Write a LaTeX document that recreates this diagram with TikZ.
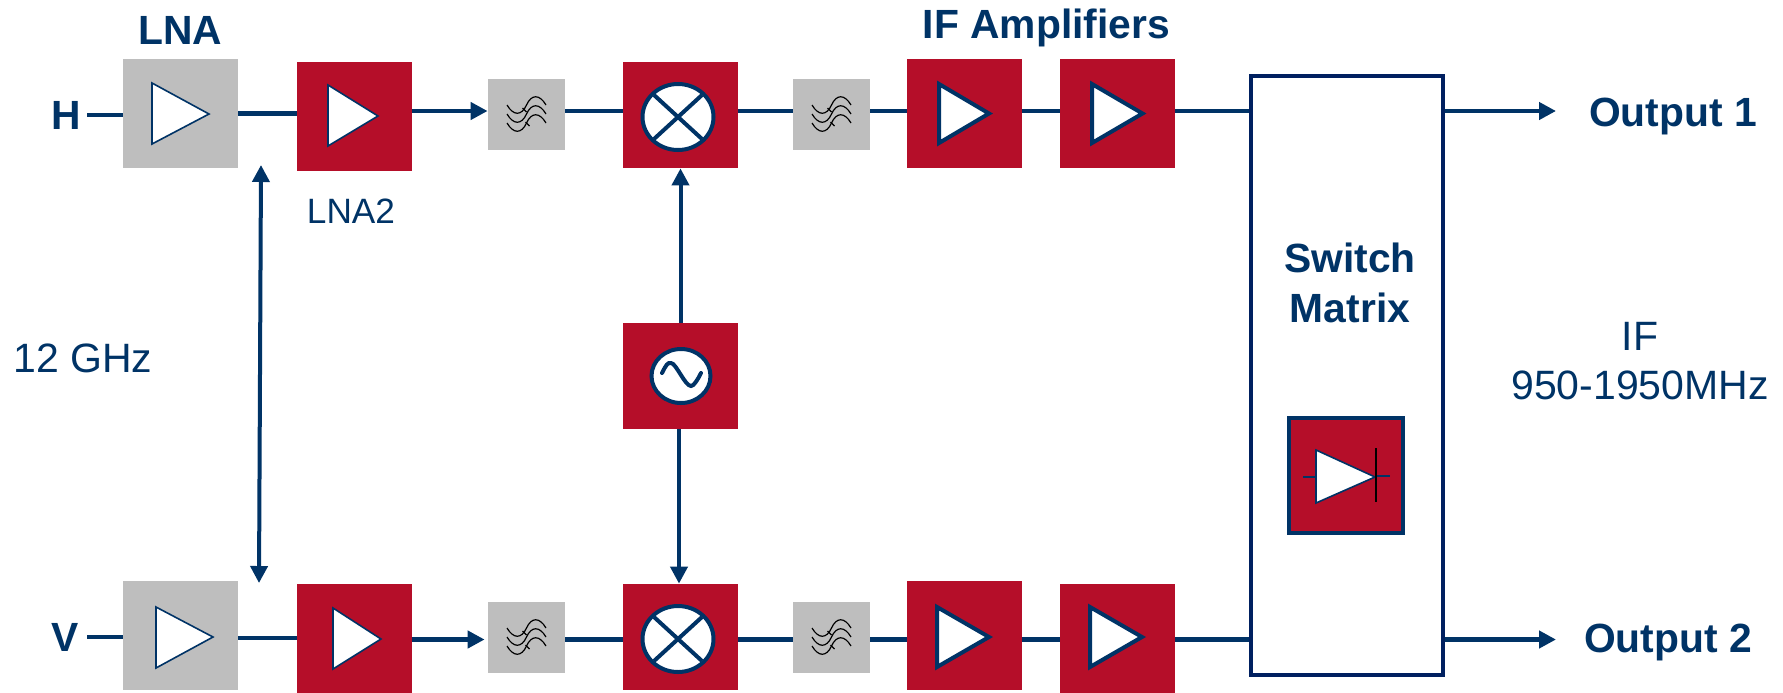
\documentclass[tikz,border=0pt]{standalone}
\usepackage{fontspec}
\setmainfont{Liberation Sans}
\usetikzlibrary{arrows.meta}
\definecolor{navy}{RGB}{0,51,102}
\definecolor{swnavy}{RGB}{0,32,96}
\definecolor{boxred}{RGB}{181,14,41}
\definecolor{boxgray}{RGB}{190,190,190}
\tikzstyle{block} = [rectangle, minimum width=57.5pt, minimum height=54.5pt, inner sep=0pt, fill=boxred]
\tikzstyle{lnablock} = [block, fill=boxgray]
\tikzstyle{mixblock} = [block, minimum height=53pt]
\tikzstyle{filterblock} = [rectangle, minimum width=38.5pt, minimum height=35.5pt, inner sep=0pt, fill=boxgray]
\tikzstyle{wire} = [draw=navy, line width=2.25pt]
\tikzstyle{arrow} = [wire, -{Triangle[length=8.5pt, width=8.5pt]}]
\tikzstyle{darrow} = [draw=navy, line width=2pt, {Triangle[length=8.5pt, width=8.5pt]}-{Triangle[length=8.5pt, width=8.5pt]}]
\tikzstyle{boldlabel} = [text=navy, inner sep=0pt, font=\fontsize{20.4}{25}\selectfont\bfseries]
\tikzstyle{plainlabel} = [text=navy, inner sep=0pt, font=\fontsize{20.5}{24.5}\selectfont]

\begin{document}
\begin{tikzpicture}[x=0.5pt, y=-0.5pt]

    \useasboundingbox (0, 0) rectangle (1783, 692);

    \node (lnaH) [lnablock] at (180.5, 113.5) {};
    \node (lna2H) [block] at (354.5, 116) {};
    \node (filterH) [filterblock] at (526.5, 114.5) {};
    \node (mixerH) [mixblock] at (680.5, 115) {};
    \node (filter2H) [filterblock] at (831.5, 114.5) {};
    \node (ifH) [block] at (964.5, 113.5) {};
    \node (if2H) [block] at (1117.5, 113.5) {};

    \node (lo) [mixblock] at (680.5, 376) {};

    \node (lnaV) [lnablock] at (180.5, 635) {};
    \node (lna2V) [block] at (354.5, 638) {};
    \node (filterV) [filterblock] at (526.5, 637.5) {};
    \node (mixerV) [mixblock] at (680.5, 637) {};
    \node (filter2V) [filterblock] at (831.5, 637.5) {};
    \node (ifV) [block] at (964.5, 635) {};
    \node (if2V) [block] at (1117.5, 638) {};

    \node (switch) [rectangle, draw=swnavy, line width=2pt, minimum width=96pt, minimum height=299.5pt] at (1347, 375.5) {};
    \node (diode) [rectangle, draw=navy, line width=2pt, fill=boxred, minimum width=57pt, minimum height=57.5pt] at (1346, 475.5) {};

    \node (lnaText) [boldlabel, anchor=base] at (180.5, 44) {LNA};
    \node (lna2Text) [text=navy, inner sep=0pt, font=\fontsize{17.6}{20}\selectfont, anchor=base] at (351, 223) {LNA2};
    \node (ifText) [boldlabel, anchor=base] at (1046.5, 38) {IF Amplifiers};
    \node (hText) [boldlabel, anchor=base] at (66, 129) {H};
    \node (vText) [boldlabel, anchor=base] at (65, 651) {V};
    \node (ghzText) [plainlabel, anchor=base] at (83, 372) {12 GHz};
    \node (switchText) [boldlabel, align=center] at (1350, 283) {Switch\\Matrix};
    \node (bandText) [plainlabel, align=center] at (1640, 361) {IF\\950-1950MHz};
    \node (out1Text) [boldlabel, anchor=base] at (1673, 126) {Output 1};
    \node (out2Text) [boldlabel, anchor=base] at (1668, 652) {Output 2};

    \coordinate (rowH) at (0, 111);
    \coordinate (rowV) at (0, 639.5);
    \coordinate (inH) at (87, 115);
    \coordinate (inV) at (87, 637);
    \coordinate (endH) at (1556, 111);
    \coordinate (endV) at (1556, 639.5);
    \coordinate (rfTop) at (261, 165);
    \coordinate (rfBottom) at (259, 583);

    \draw [wire] (inH) -- (inH -| lnaH.west);
    \draw [wire] (lnaH.east) -- (lnaH.east -| lna2H.west);
    \draw [arrow] (lna2H.east |- rowH) -- (filterH.west |- rowH);
    \draw [wire] (filterH.east |- rowH) -- (mixerH.west |- rowH);
    \draw [wire] (mixerH.east |- rowH) -- (filter2H.west |- rowH);
    \draw [wire] (filter2H.east |- rowH) -- (ifH.west |- rowH);
    \draw [wire] (ifH.east |- rowH) -- (if2H.west |- rowH);
    \draw [wire] (if2H.east |- rowH) -- (switch.west |- rowH);
    \draw [arrow] (switch.east |- rowH) -- (endH);

    \draw [wire] (inV) -- (inV -| lnaV.west);
    \draw [wire] (lnaV.east |- lna2V.west) -- (lna2V.west);
    \draw [arrow] (lna2V.east |- rowV) -- ([xshift=-1.5pt]filterV.west |- rowV);
    \draw [wire] (filterV.east |- rowV) -- (mixerV.west |- rowV);
    \draw [wire] (mixerV.east |- rowV) -- (filter2V.west |- rowV);
    \draw [wire] (filter2V.east |- rowV) -- (ifV.west |- rowV);
    \draw [wire] (ifV.east |- rowV) -- (if2V.west |- rowV);
    \draw [wire] (if2V.east |- rowV) -- (switch.west |- rowV);
    \draw [arrow] (switch.east |- rowV) -- (endV);

    \draw [arrow, line width=2pt] (lo.north) -- (mixerH.south);
    \draw [arrow, line width=2pt] ([xshift=-0.75pt]lo.south) -- ([xshift=-0.75pt]mixerV.north);
    \draw [darrow] (rfTop) -- (rfBottom);

    \foreach \lx/\ty/\by/\rx/\my in {152/83/144/209/114, 328/85/146/378/116, 156/607/668/213/637, 333/608/669/381/639, 1316/450/503/1375/477}
        \draw [navy, line width=0.8pt, line join=miter, fill=white] (\lx, \ty) -- (\rx, \my) -- (\lx, \by) -- cycle;
    \foreach \lx/\ty/\by/\rx/\my in {939/84/143/989/113.5, 1092/84/143/1142.5/113.5, 937/607/667/989/637, 1090/607/667/1142/637}
        \draw [navy, line width=2pt, line join=miter, fill=white] (\lx, \ty) -- (\rx, \my) -- (\lx, \by) -- cycle;

    \draw [navy, line width=0.8pt] (1303, 477) -- (1316, 477);
    \draw [navy, line width=0.8pt] (1375, 476) -- (1390, 476);
    \draw [black, line width=0.8pt] (1376, 448) -- (1376, 502);

    \foreach \cx/\cy in {678/117, 678/639} {
        \draw [navy, line width=2pt, fill=white] (\cx, \cy) ellipse [x radius=35.5, y radius=33];
        \draw [navy, line width=2pt] (\cx-24, \cy-22) -- (\cx+24, \cy+22);
        \draw [navy, line width=2pt] (\cx-24, \cy+22) -- (\cx+24, \cy-22);
    }

    \draw [navy, line width=2pt, fill=white] (681, 376) ellipse [x radius=29.5, y radius=27];
    \draw [navy, line width=2pt, line cap=round] (662, 373) .. controls (666, 365) and (668, 362) .. (671, 363) .. controls (676, 363) and (685, 386) .. (691, 386) .. controls (694, 386) and (698, 379) .. (701, 373);

    \foreach \fx/\fy in {526.5/114, 831.5/114, 526.5/637, 831.5/637} {
        \foreach \wy in {-9, 0, 9}
            \draw [black, line width=0.6pt] (\fx-19.5, \fy+\wy) .. controls (\fx-13, \fy+\wy+11) and (\fx-5, \fy+\wy+11) .. (\fx, \fy+\wy) .. controls (\fx+5, \fy+\wy-11) and (\fx+13, \fy+\wy-11) .. (\fx+19.5, \fy+\wy);
        \draw [black, line width=0.6pt] (\fx-4, \fy-6) -- (\fx, \fy-2);
        \draw [black, line width=0.6pt] (\fx-1, \fy+8) -- (\fx+3, \fy+12);
    }

\end{tikzpicture}
\end{document}
